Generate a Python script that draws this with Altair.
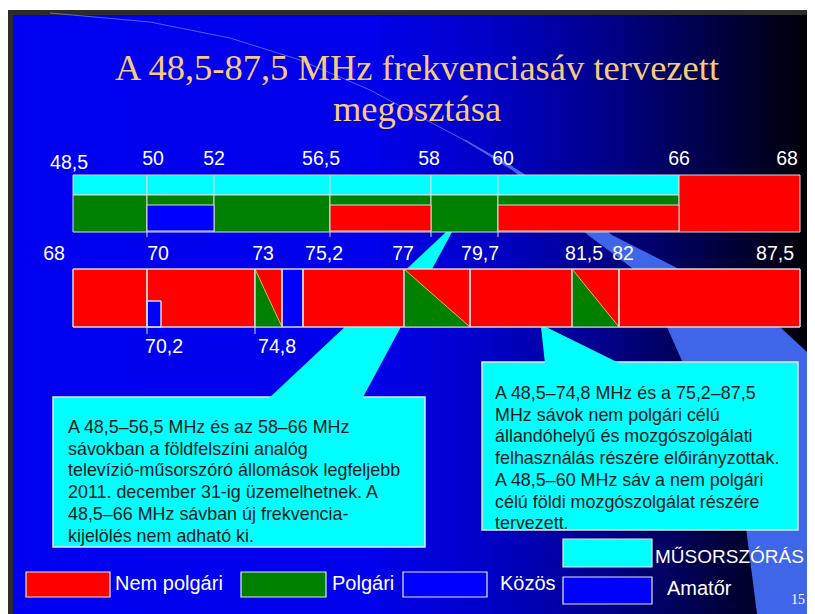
import altair as alt
import pandas as pd

# ---------------- data ----------------
title_lines = ["A 48,5-87,5 MHz frekvenciasáv tervezett", "megosztása"]

services = ["MŰSORSZÓRÁS", "Nem polgári", "Polgári", "Közös", "Amatőr"]
service_colors = ["#00FFFF", "#FF0000", "#008000", "#0000FF", "#0000FF"]

# Row 1: 48,5 – 68 MHz
row1_edges = [48.5, 50, 52, 56.5, 58, 60, 66, 68]
row1_labels = ["48,5", "50", "52", "56,5", "58", "60", "66", "68"]
row1_start = [48.5, 50, 52, 56.5, 58, 60, 48.5, 50, 52, 56.5, 58, 60, 66, 50, 56.5, 60]
row1_end = [50, 52, 56.5, 58, 60, 66, 50, 52, 56.5, 58, 60, 66, 68, 52, 58, 66]
row1_service = ["MŰSORSZÓRÁS"] * 6 + ["Polgári"] * 6 + ["Nem polgári", "Amatőr", "Nem polgári", "Nem polgári"]
row1_part = ["upper"] * 6 + ["lower"] * 6 + ["full", "inner", "inner", "inner"]

# Row 2: 68 – 87,5 MHz
row2_edges = [68, 70, 70.2, 73, 74.8, 75.2, 77, 79.7, 81.5, 82, 87.5]
row2_top_freqs = [68, 70, 73, 75.2, 77, 79.7, 81.5, 82, 87.5]
row2_top_labels = ["68", "70", "73", "75,2", "77", "79,7", "81,5", "82", "87,5"]
row2_bottom_freqs = [70.2, 74.8]
row2_bottom_labels = ["70,2", "74,8"]
row2_start = [68, 70, 73, 74.8, 75.2, 77, 79.7, 81.5, 82, 70]
row2_end = [70, 73, 74.8, 75.2, 77, 79.7, 81.5, 82, 87.5, 70.2]
row2_service = ["Nem polgári"] * 3 + ["Közös"] + ["Nem polgári"] * 5 + ["Amatőr"]
row2_part = ["full"] * 9 + ["inner"]

# shared (polgári / nem polgári) sub-bands drawn as triangles
shared_start = [73, 77, 81.5]
shared_end = [74.8, 79.7, 82]

note1_lines = [
    "A 48,5–56,5 MHz és az 58–66 MHz",
    "sávokban a földfelszíni analóg",
    "televízió-műsorszóró állomások legfeljebb",
    "2011. december 31-ig üzemelhetnek. A",
    "48,5–66 MHz sávban új frekvencia-",
    "kijelölés nem adható ki.",
]
note2_lines = [
    "A 48,5–74,8 MHz és a 75,2–87,5",
    "MHz sávok nem polgári célú",
    "állandóhelyű és mozgószolgálati",
    "felhasználás részére előirányzottak.",
    "A 48,5–60 MHz sáv a nem polgári",
    "célú földi mozgószolgálat részére",
    "tervezett.",
]

legend_labels = ["Nem polgári", "Polgári", "Közös", "MŰSORSZÓRÁS", "Amatőr"]
legend_colors = ["#FF0000", "#008000", "#0000FF", "#00FFFF", "#0000FF"]
slide_number = "15"

# ---------------- layout (pixels, style) ----------------
W, H = 799, 606
ROW1_PX = [65, 139, 206, 322, 423, 490, 671, 792]
ROW2_PX = [65, 139, 153, 247, 274, 295, 396, 462, 564, 611, 792]
ROW1_Y = {"upper": (167, 187), "lower": (187, 224), "full": (167, 224), "inner": (197, 223)}
ROW2_Y = {"full": (261, 319), "inner": (293, 319)}
ROW1_LABEL_DX = [-4, 6, 0, -9, -2, 5, 0, -13]
ROW1_LABEL_Y = [161, 157, 157, 157, 157, 157, 157, 157]
ROW2_LABEL_DX = [-19, 11, 8, 21, -1, 10, 12, 4, -25]
ROW2_LABEL_Y = 252
ROW2_BOTTOM_DX = [3, -5]
ROW2_BOTTOM_Y = 345
FONT = "Liberation Sans"
SERIF = "Liberation Serif"

PX = alt.Scale(domain=[0, W], range=[0, W], nice=False, zero=False)
PY = alt.Scale(domain=[0, H], range=[0, H], nice=False, zero=False)
X1 = alt.Scale(domain=row1_edges, range=ROW1_PX, nice=False, zero=False)
X2 = alt.Scale(domain=row2_edges, range=ROW2_PX, nice=False, zero=False)
SVC = alt.Scale(domain=services, range=service_colors)

one = pd.DataFrame({"k": [0]})


def box(x0, x1, y0, y1, **kw):
    return alt.Chart(one).mark_rect(**kw).encode(
        x=alt.value(x0), x2=alt.value(x1), y=alt.value(y0), y2=alt.value(y1))


def hband(points, **kw):
    df = pd.DataFrame(points, columns=["y", "xl", "xr"])
    return alt.Chart(df).mark_area(orient="horizontal", **kw).encode(
        y=alt.Y("y:Q", scale=PY, axis=None),
        x=alt.X("xl:Q", scale=PX, axis=None),
        x2="xr:Q")


layers = []
# slide frame & background
layers.append(box(0, W, 0, H, color="#2c2c2c"))
layers.append(box(0, W, 0, 2, color="#ffffff"))
grad = alt.LinearGradient(
    gradient="linear", x1=0, y1=0, x2=1, y2=0,
    stops=[alt.GradientStop(color="#0000F2", offset=0),
           alt.GradientStop(color="#0000EC", offset=0.45),
           alt.GradientStop(color="#0000C4", offset=0.61),
           alt.GradientStop(color="#000088", offset=0.75),
           alt.GradientStop(color="#00004A", offset=0.87),
           alt.GradientStop(color="#000008", offset=1)])
layers.append(box(5, W, 7, H, color=grad))

# faint curved line and light swoosh
curve = pd.DataFrame({"x": [42, 142, 222, 292, 362, 422, 456, 505],
                      "y": [5, 14, 30, 52, 82, 114, 132, 159]})
layers.append(alt.Chart(curve).mark_line(color="#8fa0ff", strokeWidth=1, opacity=0.6).encode(
    x=alt.X("x:Q", scale=PX, axis=None), y=alt.Y("y:Q", scale=PY, axis=None)))
layers.append(hband([
    (132, 455, 458), (162, 504, 510), (192, 542, 557), (227, 580, 604),
    (260, 624, 669), (292, 642, 724), (319, 659, 772), (344, 670, W),
    (392, 692, W), (452, 717, W), (512, 737, W), (H, 749, W)],
    color="#3f66e8"))

# callout boxes + pointers
layers.append(box(45, 417, 389, 539, color="#00FFFF", stroke="#e6e6e6", strokeWidth=1.5))
layers.append(box(474, 790, 354, 522, color="#00FFFF", stroke="#e6e6e6", strokeWidth=1.5))
layers.append(hband([(224, 438, 444), (391, 260, 354)], color="#00FFFF"))
layers.append(hband([(319, 533, 538), (356, 537, 613)], color="#00FFFF"))

# row 1 bars
t1 = pd.DataFrame({"f0": row1_start, "f1": row1_end, "service": row1_service,
                   "y0": [ROW1_Y[p][0] for p in row1_part],
                   "y1": [ROW1_Y[p][1] for p in row1_part]})
layers.append(alt.Chart(t1).mark_rect(stroke="#d9d9d9", strokeWidth=1).encode(
    x=alt.X("f0:Q", scale=X1, axis=None), x2="f1:Q",
    y=alt.Y("y0:Q", scale=PY, axis=None), y2="y1:Q",
    color=alt.Color("service:N", scale=SVC, legend=None)))
tk1 = pd.DataFrame({"f": [50, 56.5, 58, 60], "y0": [224] * 4, "y1": [229] * 4})
layers.append(alt.Chart(tk1).mark_rule(color="#d9d9d9", strokeWidth=1).encode(
    x=alt.X("f:Q", scale=X1, axis=None), y=alt.Y("y0:Q", scale=PY, axis=None), y2="y1:Q"))

# row 2 bars
t2 = pd.DataFrame({"f0": row2_start, "f1": row2_end, "service": row2_service,
                   "y0": [ROW2_Y[p][0] for p in row2_part],
                   "y1": [ROW2_Y[p][1] for p in row2_part]})
layers.append(alt.Chart(t2).mark_rect(stroke="#d9d9d9", strokeWidth=1).encode(
    x=alt.X("f0:Q", scale=X2, axis=None), x2="f1:Q",
    y=alt.Y("y0:Q", scale=PY, axis=None), y2="y1:Q",
    color=alt.Color("service:N", scale=SVC, legend=None)))
top2, bot2 = ROW2_Y["full"]
tri_rows = []
for i, (a, b) in enumerate(zip(shared_start, shared_end)):
    tri_rows.append({"id": i, "f": a, "yt": top2, "yb": bot2})
    tri_rows.append({"id": i, "f": b, "yt": bot2, "yb": bot2})
tri = pd.DataFrame(tri_rows)
layers.append(alt.Chart(tri).mark_area(color="#008000").encode(
    x=alt.X("f:Q", scale=X2, axis=None), y=alt.Y("yt:Q", scale=PY, axis=None),
    y2="yb:Q", detail="id:N"))
layers.append(alt.Chart(tri).mark_line(color="#e2b84a", strokeWidth=1).encode(
    x=alt.X("f:Q", scale=X2, axis=None), y=alt.Y("yt:Q", scale=PY, axis=None), detail="id:N"))
layers.append(alt.Chart(t2).mark_rect(stroke="#d9d9d9", strokeWidth=1, fillOpacity=0).encode(
    x=alt.X("f0:Q", scale=X2, axis=None), x2="f1:Q",
    y=alt.Y("y0:Q", scale=PY, axis=None), y2="y1:Q"))
tk2 = pd.DataFrame({"f": [70, 73], "y0": [319] * 2, "y1": [326] * 2})
layers.append(alt.Chart(tk2).mark_rule(color="#d9d9d9", strokeWidth=1).encode(
    x=alt.X("f:Q", scale=X2, axis=None), y=alt.Y("y0:Q", scale=PY, axis=None), y2="y1:Q"))


# frequency labels
def freq_label(f, lab, scale, dx, ypx):
    d = pd.DataFrame({"f": [f], "label": [lab]})
    return alt.Chart(d).mark_text(font=FONT, fontSize=19.5, color="#ffffff", align="center",
                                  baseline="alphabetic", dx=dx).encode(
        x=alt.X("f:Q", scale=scale, axis=None), y=alt.value(ypx), text="label:N")


for f, lab, dx, yy in zip(row1_edges, row1_labels, ROW1_LABEL_DX, ROW1_LABEL_Y):
    layers.append(freq_label(f, lab, X1, dx, yy))
for f, lab, dx in zip(row2_top_freqs, row2_top_labels, ROW2_LABEL_DX):
    layers.append(freq_label(f, lab, X2, dx, ROW2_LABEL_Y))
for f, lab, dx in zip(row2_bottom_freqs, row2_bottom_labels, ROW2_BOTTOM_DX):
    layers.append(freq_label(f, lab, X2, dx, ROW2_BOTTOM_Y))

# title
for txt, yy in zip(title_lines, [72, 113]):
    layers.append(alt.Chart(one).mark_text(
        font=SERIF, fontSize=36.5, color="#F6CA80", align="center",
        baseline="alphabetic").encode(
        x=alt.value(409), y=alt.value(yy), text=alt.value(txt)))

# callout texts
layers.append(alt.Chart(one).mark_text(
    font=FONT, fontSize=17.9, lineHeight=21.7, lineBreak="\n", color="#1a1a1a",
    align="left", baseline="alphabetic").encode(
    x=alt.value(60), y=alt.value(425), text=alt.value("\n".join(note1_lines))))
layers.append(alt.Chart(one).mark_text(
    font=FONT, fontSize=17.9, lineHeight=21.7, lineBreak="\n", color="#1a1a1a",
    align="left", baseline="alphabetic").encode(
    x=alt.value(487), y=alt.value(391), text=alt.value("\n".join(note2_lines))))

# legend
LEG_BOX = [(18, 102, 564, 589), (233, 318, 564, 589), (395, 479, 564, 589),
           (555, 644, 531, 559), (555, 644, 569, 596)]
LEG_TXT = [(107, 582), (324, 582), (492, 582), (647, 555), (659, 587)]
LEG_SIZE = [20, 20, 20, 19, 20]
leg = pd.DataFrame({"label": legend_labels,
                    "x0": [b[0] for b in LEG_BOX], "x1": [b[1] for b in LEG_BOX],
                    "y0": [b[2] for b in LEG_BOX], "y1": [b[3] for b in LEG_BOX],
                    "tx": [t[0] for t in LEG_TXT], "ty": [t[1] for t in LEG_TXT],
                    "fs": LEG_SIZE})
layers.append(alt.Chart(leg).mark_rect(stroke="#e8e8e8", strokeWidth=1.2).encode(
    x=alt.X("x0:Q", scale=PX, axis=None), x2="x1:Q",
    y=alt.Y("y0:Q", scale=PY, axis=None), y2="y1:Q",
    color=alt.Color("label:N", scale=alt.Scale(domain=legend_labels, range=legend_colors), legend=None)))
for fs in sorted(set(LEG_SIZE)):
    layers.append(alt.Chart(leg).transform_filter(alt.datum.fs == fs).mark_text(
        font=FONT, fontSize=fs, color="#ffffff", align="left", baseline="alphabetic").encode(
        x=alt.X("tx:Q", scale=PX, axis=None), y=alt.Y("ty:Q", scale=PY, axis=None), text="label:N"))
layers.append(alt.Chart(one).mark_text(font=SERIF, fontSize=14, color="#ffffff", align="right",
                                       baseline="alphabetic").encode(
    x=alt.value(797), y=alt.value(596), text=alt.value(slide_number)))

chart = alt.layer(*layers).resolve_scale(x="independent").properties(
    width=W, height=H, padding=0, autosize=alt.AutoSizeParams(type="none"),
    background="#ffffff").configure_view(strokeWidth=0)

chart.save("out.html", embed_options={"renderer": "svg", "actions": False})
